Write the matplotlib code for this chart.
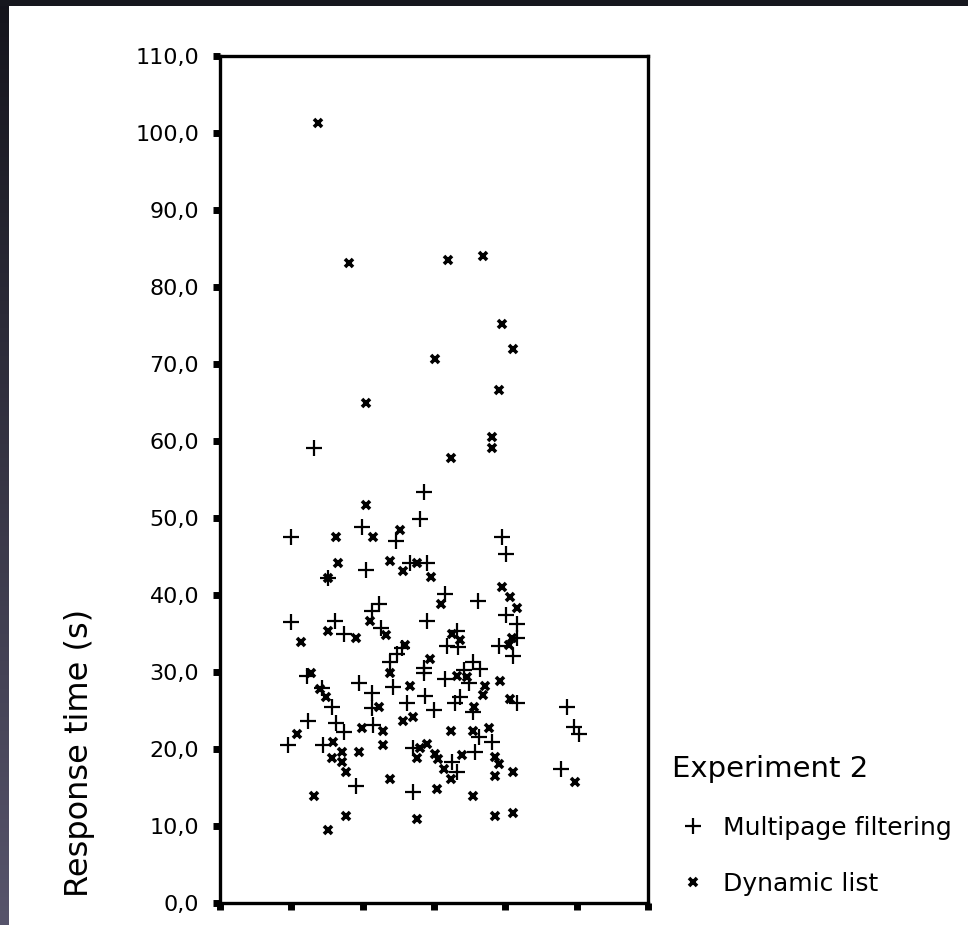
import matplotlib
matplotlib.use("Agg")
import matplotlib.pyplot as plt
import numpy as np

# Experiment 2: response times, unlabelled x position (jittered)
multipage_x = [
    1.32, 2.86, 2.81, 1.99, 0.99, 2.47, 3.96, 4.01, 1.52, 2.05,
    2.67, 2.90, 3.15, 3.62, 2.23, 2.13, 0.99, 1.61, 1.74, 2.26,
    2.90, 4.01, 4.16, 4.16, 3.91, 4.11, 2.55, 2.48, 2.39, 2.43,
    3.18, 3.32, 3.33, 2.86, 2.86, 3.54, 3.64, 3.16, 3.42, 3.49,
    3.37, 1.22, 1.43, 1.95, 2.13, 1.57, 1.23, 1.62, 1.74, 0.95,
    1.45, 1.91, 2.13, 2.14, 2.62, 2.88, 3.00, 2.71, 2.71, 3.30,
    3.54, 3.63, 3.82, 3.58, 3.25, 3.32, 4.17, 4.87, 4.96, 5.03,
    4.78,
]
multipage_y = [
    59.1, 53.4, 49.9, 48.9, 47.6, 47.1, 47.6, 45.4, 42.2, 43.3,
    44.2, 44.2, 40.2, 39.2, 38.9, 38.0, 36.5, 36.6, 35.0, 35.7,
    36.6, 37.4, 36.2, 34.4, 33.4, 32.1, 33.1, 32.4, 31.3, 28.1,
    33.4, 35.4, 33.3, 30.6, 29.9, 31.3, 30.4, 29.1, 30.3, 28.6,
    26.8, 29.5, 28.0, 28.6, 27.3, 25.5, 23.7, 23.4, 22.3, 20.5,
    20.5, 15.2, 25.4, 23.1, 26.0, 26.9, 25.1, 20.2, 14.5, 26.0,
    24.9, 21.6, 21.0, 19.7, 18.4, 17.1, 26.0, 25.5, 22.9, 22.0,
    17.5,
]

dynamic_x = [
    1.38, 1.81, 3.19, 3.68, 3.96, 4.11, 3.01, 3.91, 2.05, 3.82,
    3.82, 3.24, 2.05, 1.62, 2.14, 2.52, 1.66, 1.52, 2.38, 2.57,
    2.76, 2.96, 3.96, 4.06, 4.16, 3.10, 2.10, 1.52, 1.90, 1.13,
    2.33, 2.60, 2.38, 2.95, 2.67, 3.25, 3.37, 3.32, 3.46, 3.72,
    3.93, 3.68, 4.07, 4.10, 4.05, 1.28, 1.40, 1.49, 1.08, 1.59,
    1.71, 1.57, 1.71, 1.76, 1.95, 1.32, 1.76, 1.52, 2.23, 1.99,
    2.28, 2.28, 2.38, 2.57, 2.71, 2.81, 2.90, 2.76, 3.02, 3.06,
    2.76, 3.04, 3.56, 3.24, 3.54, 3.77, 3.39, 3.14, 3.24, 3.86,
    3.91, 3.86, 4.11, 3.54, 3.86, 4.11, 4.97,
]
dynamic_y = [
    101.3, 83.1, 83.5, 84.0, 75.2, 72.0, 70.7, 66.7, 64.9, 60.6,
    59.1, 57.8, 51.7, 47.6, 47.6, 48.5, 44.2, 42.2, 44.5, 43.2,
    44.2, 42.4, 41.1, 39.8, 38.4, 38.8, 36.6, 35.4, 34.4, 33.9,
    34.8, 33.5, 29.9, 31.7, 28.2, 34.9, 34.2, 29.5, 29.4, 28.2,
    28.9, 27.0, 26.5, 34.5, 33.5, 29.9, 27.8, 26.8, 22.0, 21.0,
    19.7, 18.8, 18.4, 17.1, 19.7, 13.9, 11.3, 9.5, 25.5, 22.8,
    22.4, 20.6, 16.2, 23.7, 24.2, 20.1, 20.7, 18.8, 19.4, 18.7,
    10.9, 14.9, 25.5, 22.4, 22.4, 22.8, 19.2, 17.5, 16.2, 19.0,
    18.1, 16.5, 17.1, 13.9, 11.3, 11.7, 15.8,
]

y_ticks = np.arange(0, 111, 10)
x_ticks = np.arange(0, 7, 1)

fig = plt.figure(figsize=(9.68, 9.25), dpi=100)
fig.patch.set_facecolor("white")

# dark window edges of the screenshot
edge = fig.add_axes([0, 0, 9 / 968, 1])
top_c = np.array([0.08, 0.08, 0.11])
bot_c = np.array([0.34, 0.33, 0.42])
grad = np.linspace(0, 1, 200)[:, None, None] * (bot_c - top_c) + top_c
edge.imshow(grad, aspect="auto", extent=[0, 1, 0, 1])
edge.axis("off")
top = fig.add_axes([0, 1 - 6 / 925, 1, 6 / 925])
top.set_facecolor("#16171e")
top.set_xticks([])
top.set_yticks([])
for s in top.spines.values():
    s.set_visible(False)

ax = fig.add_axes([220 / 968, 1 - 903.3 / 925, 428 / 968, 847.3 / 925])
ax.plot(multipage_x, multipage_y, linestyle="none", marker="+", color="black",
        markersize=11.5, markeredgewidth=1.6, label="Multipage filtering")
ax.plot(dynamic_x, dynamic_y, linestyle="none", marker="x", color="black",
        markersize=5.5, markeredgewidth=2.6, label="Dynamic list")

ax.set_xlim(0, 6)
ax.set_ylim(0, 110)
ax.set_xticks(x_ticks)
ax.set_xticklabels([])
ax.set_yticks(y_ticks)
ax.set_yticklabels([f"{v:.1f}".replace(".", ",") for v in y_ticks])
ax.tick_params(axis="both", direction="out", length=5, width=5, color="black",
               labelsize=16, pad=10)
for s in ax.spines.values():
    s.set_linewidth(2.4)

fig.text(80 / 968, 1 - 753 / 925, "Response time (s)", rotation=90,
         ha="center", va="center", fontsize=23)

leg = ax.legend(title="Experiment 2", loc="upper left",
                bbox_to_anchor=(672 / 968, 1 - 755 / 925),
                bbox_transform=fig.transFigure, frameon=False,
                fontsize=18, title_fontsize=21, alignment="left",
                handlelength=1.68, handletextpad=0.36, labelspacing=1.3,
                borderpad=0, borderaxespad=0)

fig.savefig("out.png", dpi=100)
